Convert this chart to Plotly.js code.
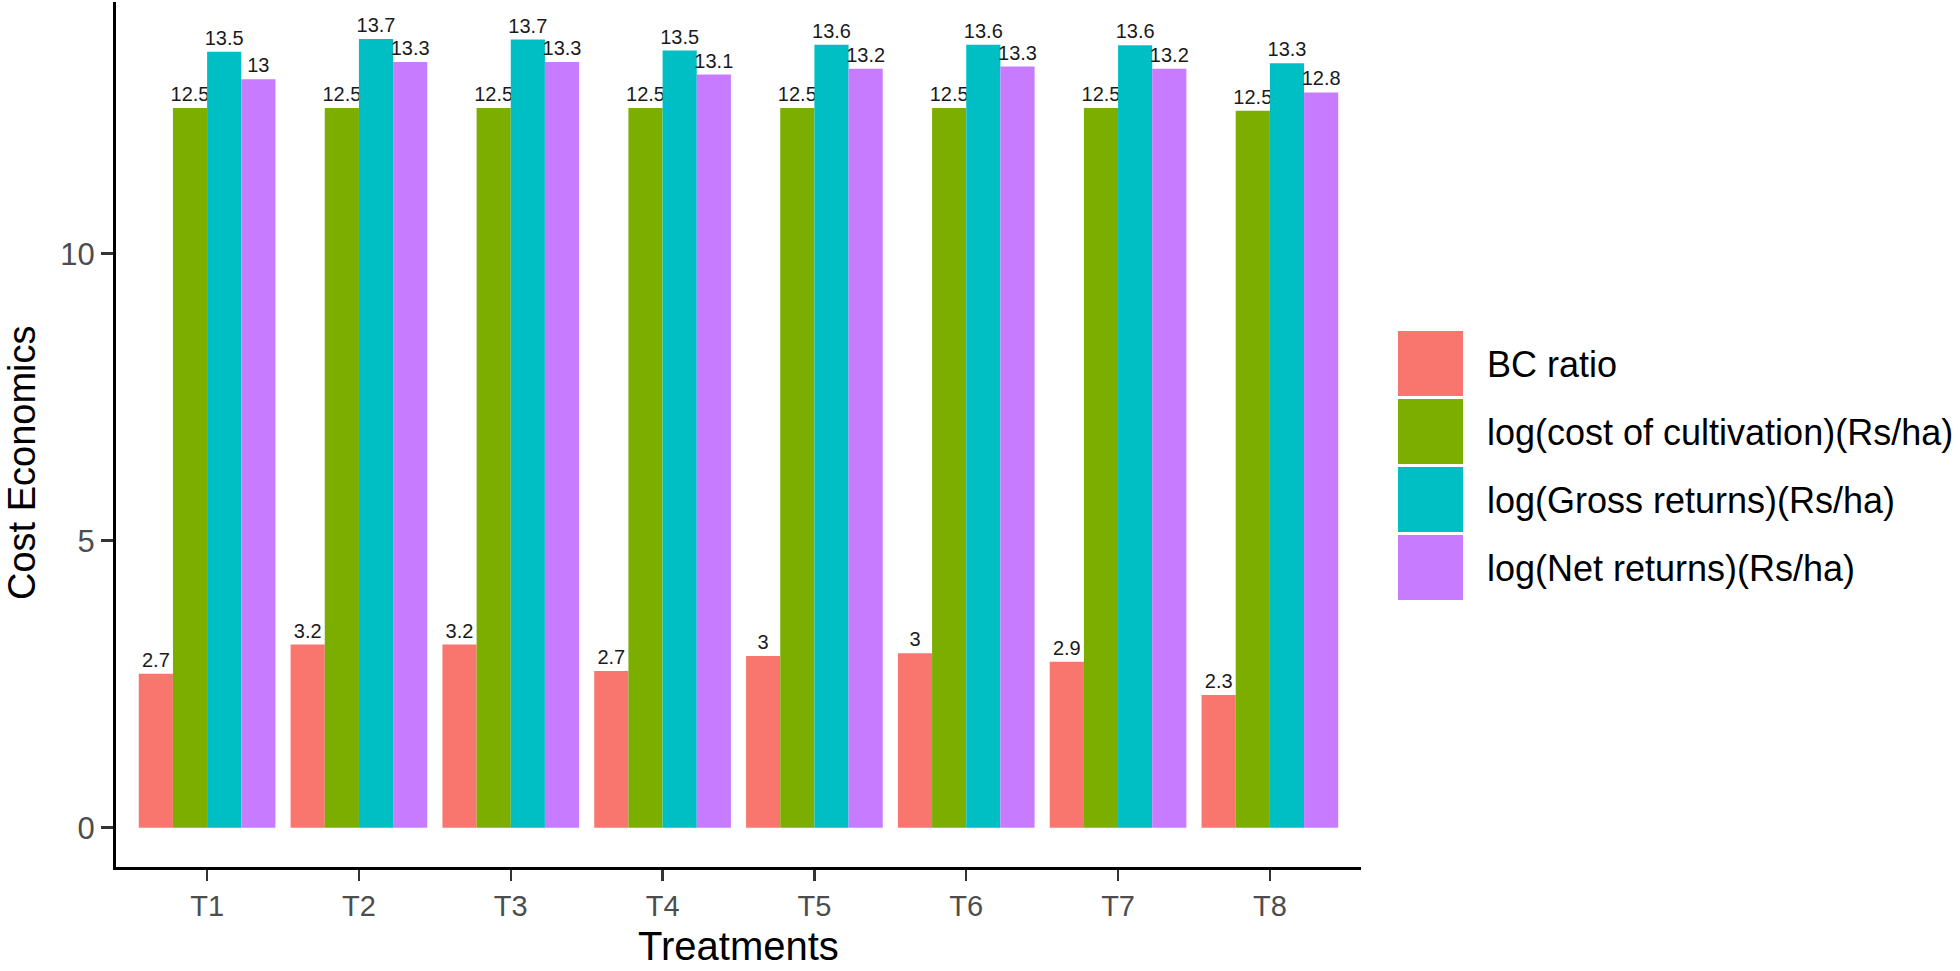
<!DOCTYPE html>
<html>
<head>
<meta charset="utf-8">
<script src="https://cdn.plot.ly/plotly-3.0.1.min.js"></script>
<style>
  html, body { margin: 0; padding: 0; background: #ffffff; }
  #chart { width: 1960px; height: 971px; }
</style>
</head>
<body>
<div id="chart"></div>
<script>
// ---- data ----
const treatments = ["T1", "T2", "T3", "T4", "T5", "T6", "T7", "T8"];
const seriesNames = ["BC ratio", "log(cost of cultivation)(Rs/ha)", "log(Gross returns)(Rs/ha)", "log(Net returns)(Rs/ha)"];
const bcRatio    = [2.68, 3.19, 3.19, 2.73, 2.99, 3.04, 2.89, 2.31];
const logCost    = [12.54, 12.54, 12.54, 12.54, 12.54, 12.54, 12.54, 12.49];
const logGross   = [13.52, 13.74, 13.73, 13.54, 13.64, 13.64, 13.63, 13.32];
const logNet     = [13.04, 13.34, 13.34, 13.12, 13.22, 13.26, 13.22, 12.81];
const yTicks     = [0, 5, 10];

const seriesValues = [bcRatio, logCost, logGross, logNet];
const colors = ["#F8766D", "#7CAE00", "#00BFC4", "#C77CFF"];
const FONT = "Liberation Sans, Arial, Helvetica, sans-serif";

const fmt = v => String(Math.round(v * 10) / 10);

const traces = seriesValues.map((vals, i) => ({
  type: "bar",
  name: seriesNames[i],
  x: treatments,
  y: vals,
  marker: { color: colors[i], line: { width: 0 } },
  text: vals.map(fmt),
  textposition: "outside",
  textfont: { family: FONT, size: 20, color: "#1a1a1a" },
  constraintext: "none",
  cliponaxis: false,
  showlegend: false,
  hoverinfo: "x+y+name"
}));

// plot-area geometry in pixels (for the ggplot-style legend keys and titles)
const W = 1960, H = 971;
const M = { l: 116, r: 599, t: 2, b: 104 };
const pw = W - M.l - M.r, ph = H - M.t - M.b;
const px = x => (x - M.l) / pw;
const py = y => (H - M.b - y) / ph;

const shapes = [];
const annotations = [];
const keyX0 = 1398, keyX1 = 1463, keyTop = 331, keyH = 65, keyPitch = 68;
seriesNames.forEach((nm, i) => {
  const y0 = keyTop + i * keyPitch;
  shapes.push({
    type: "rect", xref: "paper", yref: "paper",
    x0: px(keyX0), x1: px(keyX1), y0: py(y0 + keyH), y1: py(y0),
    fillcolor: colors[i], line: { width: 0 }
  });
  annotations.push({
    xref: "paper", yref: "paper",
    x: px(1485), y: py(y0 + keyH / 2 + 1),
    xanchor: "left", yanchor: "middle",
    text: nm, showarrow: false,
    font: { family: FONT, size: 36, color: "#000000" }
  });
});

// axis titles (placed as in the reference)
annotations.push({
  xref: "paper", yref: "paper",
  x: px(22), y: py(463),
  xanchor: "center", yanchor: "middle",
  text: "Cost Economics", textangle: -90, showarrow: false,
  font: { family: FONT, size: 38, color: "#000000" }
});
annotations.push({
  xref: "paper", yref: "paper",
  x: 0.5, y: py(970.5),
  xanchor: "center", yanchor: "bottom",
  text: "Treatments", showarrow: false,
  font: { family: FONT, size: 40, color: "#000000" }
});

const layout = {
  width: W, height: H,
  margin: M,
  paper_bgcolor: "#ffffff",
  plot_bgcolor: "#ffffff",
  barmode: "group",
  bargap: 0.1,
  bargroupgap: 0,
  showlegend: false,
  font: { family: FONT },
  xaxis: {
    type: "category",
    range: [-0.6, 7.6],
    showline: true, linecolor: "#000000", linewidth: 3,
    ticks: "outside", ticklen: 11, tickwidth: 2.5, tickcolor: "#333333",
    tickfont: { family: FONT, size: 29, color: "#4D4D4D" },
    showgrid: false, zeroline: false
  },
  yaxis: {
    range: [-0.685, 14.385],
    tickvals: yTicks,
    ticktext: yTicks.map(String),
    showline: true, linecolor: "#000000", linewidth: 3,
    ticks: "outside", ticklen: 12, tickwidth: 2.5, tickcolor: "#333333",
    tickfont: { family: FONT, size: 31, color: "#4D4D4D" },
    showgrid: false, zeroline: false
  },
  shapes: shapes,
  annotations: annotations
};

Plotly.newPlot("chart", traces, layout, { displayModeBar: false, staticPlot: true });
</script>
</body>
</html>
